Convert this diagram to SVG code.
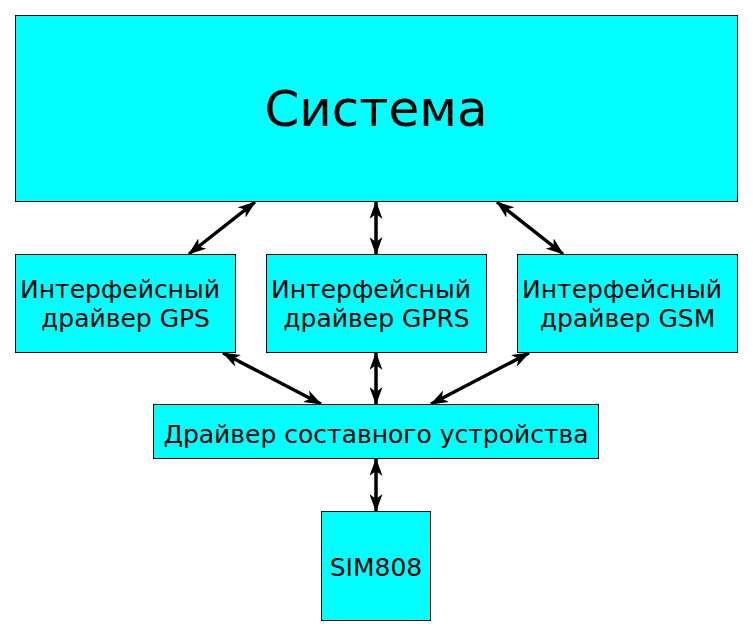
<svg xmlns="http://www.w3.org/2000/svg" width="753" height="636" viewBox="0 0 753 636">
<style>
.box{fill:#00ffff;stroke:#000;stroke-width:1}
.t{font-family:"DejaVu Sans",sans-serif;font-size:25px;fill:#000;text-anchor:middle}
.big{font-size:50px}
.c{stroke:#000;stroke-width:3.5;fill:none;marker-start:url(#ah);marker-end:url(#ah)}
</style>
<defs>
<marker id="ah" viewBox="0 0 18 13" markerUnits="userSpaceOnUse" markerWidth="18" markerHeight="13" refX="17" refY="6.5" orient="auto-start-reverse">
<path d="M0,0 L18,6.5 L0,13 L5,6.5 Z" fill="#000"/>
</marker>
</defs>
<rect width="753" height="636" fill="#fff"/>
<g id="connectors">
<line class="c" x1="255" y1="202" x2="189" y2="254"/>
<line class="c" x1="376" y1="202" x2="376" y2="254"/>
<line class="c" x1="497" y1="202" x2="563" y2="254"/>
<line class="c" x1="223" y1="353" x2="321" y2="404"/>
<line class="c" x1="376" y1="353" x2="376" y2="404"/>
<line class="c" x1="529" y1="353" x2="431" y2="404"/>
<line class="c" x1="376" y1="459" x2="376" y2="511"/>
</g>
<g id="system">
<rect class="box" x="15.5" y="15.5" width="722" height="186"/>
<text class="t big" x="376" y="126">Система</text>
</g>
<g id="gps">
<rect class="box" x="15.5" y="254.5" width="220" height="98"/>
<text class="t" x="120" y="298">Интерфейсный</text>
<text class="t" x="125.5" y="327">драйвер GPS</text>
</g>
<g id="gprs">
<rect class="box" x="266.5" y="254.5" width="220" height="98"/>
<text class="t" x="371" y="298">Интерфейсный</text>
<text class="t" x="376.5" y="327">драйвер GPRS</text>
</g>
<g id="gsm">
<rect class="box" x="517.5" y="254.5" width="220" height="98"/>
<text class="t" x="622" y="298">Интерфейсный</text>
<text class="t" x="627.5" y="327">драйвер GSM</text>
</g>
<g id="composite">
<rect class="box" x="153.5" y="404.5" width="445" height="54"/>
<text class="t" x="376" y="443">Драйвер составного устройства</text>
</g>
<g id="sim808">
<rect class="box" x="321.5" y="511.5" width="109" height="109"/>
<text class="t" x="376" y="576">SIM808</text>
</g>
</svg>
